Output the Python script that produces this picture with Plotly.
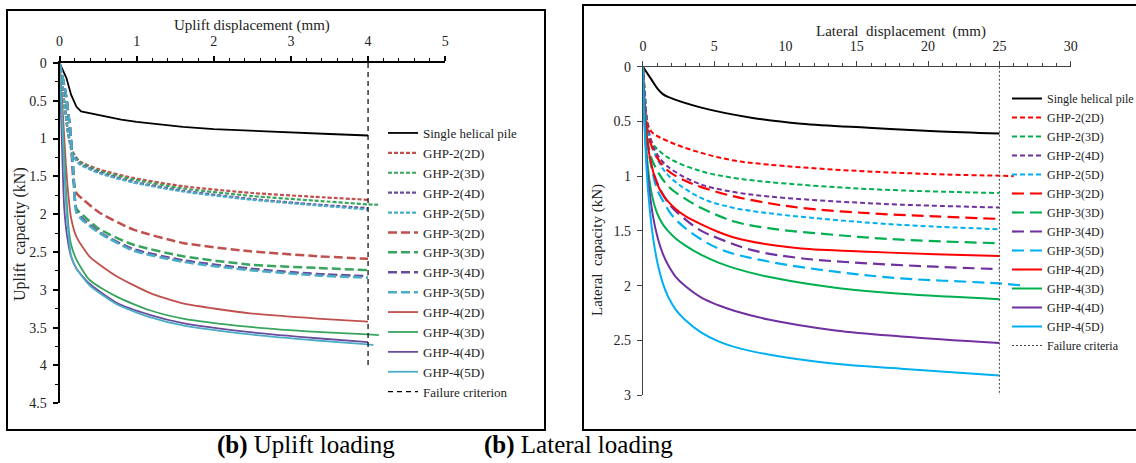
import plotly.graph_objects as go

W, H = 1136, 463

# ---------------- Uplift loading (left) ----------------
up_single_x = [0, 0.05, 0.09, 0.15, 0.22, 0.28, 0.39, 0.6, 0.8, 1.0, 1.2, 1.6, 2.0, 2.5, 3.0, 3.5, 4.0]
up_single_y = [0, 0.1, 0.2, 0.42, 0.58, 0.64, 0.665, 0.71, 0.75, 0.78, 0.80, 0.845, 0.875, 0.9, 0.92, 0.94, 0.96]

up_g2_2d_x = [0, 0.03, 0.065, 0.11, 0.17, 0.26, 0.52, 0.95, 1.6, 2.5, 3.3, 4.0]
up_g2_2d_y = [0, 0.2, 0.55, 0.9, 1.17, 1.3, 1.41, 1.52, 1.63, 1.72, 1.77, 1.81]
up_g2_3d_x = [0, 0.03, 0.065, 0.11, 0.17, 0.26, 0.52, 0.95, 1.6, 2.5, 3.3, 4.0, 4.13]
up_g2_3d_y = [0, 0.2, 0.55, 0.9, 1.18, 1.31, 1.43, 1.54, 1.66, 1.76, 1.82, 1.87, 1.875]
up_g2_4d_x = [0, 0.03, 0.065, 0.11, 0.17, 0.26, 0.52, 0.95, 1.6, 2.5, 3.3, 4.0]
up_g2_4d_y = [0, 0.2, 0.55, 0.92, 1.2, 1.33, 1.45, 1.57, 1.69, 1.8, 1.87, 1.92]
up_g2_5d_x = [0, 0.03, 0.065, 0.11, 0.17, 0.26, 0.52, 0.95, 1.6, 2.5, 3.3, 4.0]
up_g2_5d_y = [0, 0.2, 0.56, 0.93, 1.21, 1.34, 1.46, 1.58, 1.70, 1.81, 1.88, 1.94]

up_g3_2d_x = [0, 0.08, 0.14, 0.18, 0.22, 0.3, 0.52, 0.95, 1.6, 2.47, 3.34, 4.0]
up_g3_2d_y = [0, 0.4, 0.9, 1.55, 1.72, 1.8, 1.98, 2.2, 2.38, 2.49, 2.555, 2.59]
up_g3_3d_x = [0, 0.08, 0.14, 0.18, 0.22, 0.3, 0.52, 0.95, 1.6, 2.47, 3.34, 4.0]
up_g3_3d_y = [0, 0.4, 0.9, 1.45, 1.93, 2.01, 2.2, 2.4, 2.556, 2.667, 2.71, 2.74]
up_g3_4d_x = [0, 0.08, 0.14, 0.18, 0.22, 0.3, 0.52, 0.95, 1.6, 2.47, 3.34, 4.0]
up_g3_4d_y = [0, 0.4, 0.9, 1.45, 1.96, 2.06, 2.24, 2.46, 2.61, 2.72, 2.79, 2.82]
up_g3_5d_x = [0, 0.08, 0.14, 0.18, 0.22, 0.3, 0.52, 0.95, 1.6, 2.47, 3.34, 4.0]
up_g3_5d_y = [0, 0.4, 0.9, 1.45, 1.98, 2.08, 2.25, 2.48, 2.63, 2.74, 2.81, 2.84]

up_g4_2d_x = [0, 0.04, 0.08, 0.12, 0.15, 0.22, 0.39, 0.74, 1.17, 1.6, 2.47, 3.34, 4.0]
up_g4_2d_y = [0, 0.6, 1.3, 1.8, 2.05, 2.3, 2.56, 2.82, 3.04, 3.18, 3.31, 3.38, 3.42]
up_g4_3d_x = [0, 0.04, 0.08, 0.12, 0.15, 0.22, 0.39, 0.74, 1.17, 1.6, 2.47, 3.34, 4.0, 4.14]
up_g4_3d_y = [0, 0.8, 1.6, 2.2, 2.4, 2.6, 2.87, 3.09, 3.27, 3.38, 3.49, 3.556, 3.59, 3.6]
up_g4_4d_x = [0, 0.03, 0.06, 0.1, 0.15, 0.22, 0.39, 0.74, 1.17, 1.6, 2.47, 3.34, 4.0]
up_g4_4d_y = [0, 1.0, 1.9, 2.3, 2.56, 2.72, 2.92, 3.17, 3.33, 3.44, 3.56, 3.64, 3.69]
up_g4_5d_x = [0, 0.04, 0.08, 0.12, 0.15, 0.22, 0.39, 0.74, 1.17, 1.6, 2.47, 3.34, 4.0, 4.07]
up_g4_5d_y = [0, 0.9, 1.8, 2.3, 2.55, 2.72, 2.94, 3.19, 3.36, 3.47, 3.59, 3.67, 3.72, 3.73]

up_fail_x = [4, 4]
up_fail_y = [0, 4]

# ---------------- Lateral loading (right) ----------------
lat_single_x = [0, 0.58, 1.05, 1.4, 1.76, 4.1, 7.6, 11.1, 15.8, 20.5, 25]
lat_single_y = [0, 0.113, 0.205, 0.25, 0.275, 0.373, 0.465, 0.52, 0.557, 0.588, 0.609]

lat_g2_2d_x = [0, 0.12, 0.25, 0.58, 1.76, 4.1, 6.4, 8.8, 13.5, 18.1, 22.8, 25, 26]
lat_g2_2d_y = [0, 0.22, 0.45, 0.59, 0.68, 0.787, 0.857, 0.894, 0.94, 0.97, 0.99, 0.995, 1.0]
lat_g2_3d_x = [0, 0.15, 0.3, 0.58, 1.76, 4.1, 6.4, 8.8, 13.5, 18.1, 25]
lat_g2_3d_y = [0, 0.25, 0.5, 0.68, 0.83, 0.955, 1.016, 1.053, 1.10, 1.13, 1.154]
lat_g2_4d_x = [0, 0.15, 0.35, 0.8, 1.4, 2.2, 4.1, 6.4, 8.8, 13.5, 18.1, 25]
lat_g2_4d_y = [0, 0.28, 0.55, 0.75, 0.87, 0.955, 1.077, 1.145, 1.185, 1.23, 1.26, 1.286]
lat_g2_5d_x = [0, 0.15, 0.35, 0.82, 1.76, 4.1, 6.4, 8.8, 13.5, 18.1, 25]
lat_g2_5d_y = [0, 0.3, 0.6, 0.79, 0.99, 1.2, 1.29, 1.338, 1.4, 1.445, 1.485]

lat_g3_2d_x = [0, 0.2, 0.5, 1.0, 1.76, 2.93, 4.1, 6.4, 8.8, 11.1, 15.8, 20.5, 25]
lat_g3_2d_y = [0, 0.45, 0.68, 0.83, 0.95, 1.04, 1.1, 1.185, 1.246, 1.29, 1.338, 1.368, 1.39]
lat_g3_3d_x = [0, 0.2, 0.58, 1.76, 2.9, 4.1, 6.4, 8.8, 13.5, 18.1, 25]
lat_g3_3d_y = [0, 0.5, 0.83, 1.09, 1.2, 1.29, 1.414, 1.475, 1.537, 1.58, 1.613]
lat_g3_4d_x = [0, 0.2, 0.4, 0.82, 1.76, 2.93, 4.1, 5.27, 7.6, 11.1, 15.8, 20.5, 25]
lat_g3_4d_y = [0, 0.5, 0.76, 1.0, 1.24, 1.39, 1.5, 1.567, 1.674, 1.75, 1.797, 1.827, 1.85]
lat_g3_5d_x = [0, 0.2, 0.5, 1.0, 1.52, 2.0, 2.93, 5.27, 8.8, 13.5, 18.1, 25, 26.7]
lat_g3_5d_y = [0, 0.55, 0.85, 1.12, 1.25, 1.35, 1.47, 1.66, 1.78, 1.873, 1.934, 1.98, 2.0]

lat_g4_2d_x = [0, 0.12, 0.3, 0.6, 1.0, 1.4, 1.76, 2.3, 2.93, 4.1, 5.3, 6.4, 8.8, 11.1, 15.8, 20.5, 25]
lat_g4_2d_y = [0, 0.35, 0.66, 0.9, 1.07, 1.17, 1.23, 1.3, 1.36, 1.44, 1.51, 1.56, 1.625, 1.66, 1.69, 1.714, 1.73]
lat_g4_3d_x = [0, 0.12, 0.3, 0.6, 1.0, 1.4, 1.76, 2.3, 2.93, 4.1, 5.3, 6.4, 8.8, 13.5, 18.1, 25]
lat_g4_3d_y = [0, 0.45, 0.85, 1.15, 1.34, 1.44, 1.5, 1.57, 1.63, 1.72, 1.79, 1.84, 1.92, 2.02, 2.075, 2.124]
lat_g4_4d_x = [0, 0.15, 0.35, 0.7, 1.05, 1.4, 1.76, 2.3, 2.93, 4.1, 5.3, 6.4, 8.8, 13.5, 18.1, 25]
lat_g4_4d_y = [0, 0.6, 1.0, 1.36, 1.57, 1.71, 1.81, 1.92, 2.0, 2.11, 2.18, 2.23, 2.31, 2.41, 2.465, 2.525]
lat_g4_5d_x = [0, 0.12, 0.35, 0.7, 1.05, 1.4, 1.76, 2.3, 2.93, 4.1, 5.3, 6.4, 8.8, 13.5, 18.1, 25]
lat_g4_5d_y = [0, 0.56, 1.11, 1.55, 1.81, 1.98, 2.1, 2.22, 2.31, 2.43, 2.51, 2.56, 2.63, 2.715, 2.76, 2.822]

lat_fail_x = [25, 25]
lat_fail_y = [0, 3]

# ---------------- styles ----------------
FONT = "Liberation Serif"
L_RED, L_GRN, L_PUR, L_CYN = "#C0504D", "#38A55E", "#6A4C9C", "#4BACC6"
R_RED, R_GRN, R_PUR, R_CYN = "#FF0000", "#00B050", "#7030A0", "#00B0F0"

fig = go.Figure()

def add(x, y, name, color, dash, width, xa, ya, legend, shape="spline", smooth=0.6):
    fig.add_trace(go.Scatter(
        x=x, y=y, name=name, mode="lines",
        line=dict(color=color, dash=dash, width=width, shape=shape, smoothing=smooth),
        xaxis=xa, yaxis=ya, legend=legend, hoverinfo="skip"))

# left
LD2, LD3 = "4px,2px", "9px,4px"
add(up_single_x, up_single_y, "Single helical pile", "black", "solid", 1.8, "x", "y", "legend", "linear")
add(up_g2_2d_x, up_g2_2d_y, "GHP-2(2D)", L_RED, LD2, 2.2, "x", "y", "legend")
add(up_g2_3d_x, up_g2_3d_y, "GHP-2(3D)", L_GRN, LD2, 2.2, "x", "y", "legend")
add(up_g2_4d_x, up_g2_4d_y, "GHP-2(4D)", L_PUR, LD2, 2.2, "x", "y", "legend")
add(up_g2_5d_x, up_g2_5d_y, "GHP-2(5D)", L_CYN, LD2, 2.2, "x", "y", "legend")
add(up_g3_2d_x, up_g3_2d_y, "GHP-3(2D)", L_RED, LD3, 2.5, "x", "y", "legend")
add(up_g3_3d_x, up_g3_3d_y, "GHP-3(3D)", L_GRN, LD3, 2.5, "x", "y", "legend")
add(up_g3_4d_x, up_g3_4d_y, "GHP-3(4D)", L_PUR, LD3, 2.5, "x", "y", "legend")
add(up_g3_5d_x, up_g3_5d_y, "GHP-3(5D)", L_CYN, LD3, 2.5, "x", "y", "legend")
add(up_g4_2d_x, up_g4_2d_y, "GHP-4(2D)", L_RED, "solid", 1.8, "x", "y", "legend")
add(up_g4_3d_x, up_g4_3d_y, "GHP-4(3D)", L_GRN, "solid", 1.8, "x", "y", "legend")
add(up_g4_4d_x, up_g4_4d_y, "GHP-4(4D)", L_PUR, "solid", 1.8, "x", "y", "legend")
add(up_g4_5d_x, up_g4_5d_y, "GHP-4(5D)", L_CYN, "solid", 1.8, "x", "y", "legend")
add(up_fail_x, up_fail_y, "Failure criterion", "black", "5px,4px", 1.2, "x", "y", "legend", "linear")

# right
RD2, RD3 = "5px,3px", "12px,6px"
S = 1.0
add(lat_single_x, lat_single_y, "Single helical pile", "black", "solid", 2, "x2", "y2", "legend2", smooth=S)
add(lat_g2_2d_x, lat_g2_2d_y, "GHP-2(2D)", R_RED, RD2, 2, "x2", "y2", "legend2", smooth=S)
add(lat_g2_3d_x, lat_g2_3d_y, "GHP-2(3D)", R_GRN, RD2, 2, "x2", "y2", "legend2", smooth=S)
add(lat_g2_4d_x, lat_g2_4d_y, "GHP-2(4D)", R_PUR, RD2, 2, "x2", "y2", "legend2", smooth=S)
add(lat_g2_5d_x, lat_g2_5d_y, "GHP-2(5D)", R_CYN, RD2, 2, "x2", "y2", "legend2", smooth=S)
add(lat_g3_2d_x, lat_g3_2d_y, "GHP-3(2D)", R_RED, RD3, 2.2, "x2", "y2", "legend2", smooth=S)
add(lat_g3_3d_x, lat_g3_3d_y, "GHP-3(3D)", R_GRN, RD3, 2.2, "x2", "y2", "legend2", smooth=S)
add(lat_g3_4d_x, lat_g3_4d_y, "GHP-3(4D)", R_PUR, RD3, 2.2, "x2", "y2", "legend2", smooth=S)
add(lat_g3_5d_x, lat_g3_5d_y, "GHP-3(5D)", R_CYN, RD3, 2.2, "x2", "y2", "legend2", smooth=S)
add(lat_g4_2d_x, lat_g4_2d_y, "GHP-4(2D)", R_RED, "solid", 2, "x2", "y2", "legend2", smooth=S)
add(lat_g4_3d_x, lat_g4_3d_y, "GHP-4(3D)", R_GRN, "solid", 2, "x2", "y2", "legend2", smooth=S)
add(lat_g4_4d_x, lat_g4_4d_y, "GHP-4(4D)", R_PUR, "solid", 2, "x2", "y2", "legend2", smooth=S)
add(lat_g4_5d_x, lat_g4_5d_y, "GHP-4(5D)", R_CYN, "solid", 2, "x2", "y2", "legend2", smooth=S)
add(lat_fail_x, lat_fail_y, "Failure criteria", "#444444", "2px,2px", 1, "x2", "y2", "legend2", "linear")

def px_x(p):
    return p / W

def px_y(p):
    return 1 - p / H

tickfont = dict(family=FONT, size=14, color="#222")

fig.update_layout(
    width=W, height=H,
    margin=dict(l=0, r=0, t=0, b=0, autoexpand=False),
    paper_bgcolor="white", plot_bgcolor="white",
    showlegend=True,
    font=dict(family=FONT, color="#222"),
    xaxis=dict(domain=[px_x(59.5), px_x(445.2)], range=[0, 5], side="top", anchor="y",
               dtick=1, tick0=0, showline=True, linecolor="black", linewidth=1.8,
               ticks="outside", ticklen=5, tickwidth=1.5, tickcolor="black",
               minor=dict(dtick=0.2, ticks="outside", ticklen=3, tickwidth=1.2, tickcolor="black"),
               showgrid=False, zeroline=False, tickfont=tickfont, ticklabelstandoff=4),
    yaxis=dict(domain=[px_y(403.3), px_y(62.9)], range=[4.5, 0], anchor="x",
               dtick=0.5, tick0=0, showline=True, linecolor="black", linewidth=1.8,
               ticks="outside", ticklen=5, tickwidth=1.5, tickcolor="black",
               minor=dict(dtick=0.25, ticks="outside", ticklen=3, tickwidth=1.2, tickcolor="black"),
               showgrid=False, zeroline=False, tickfont=tickfont, ticklabelstandoff=3),
    xaxis2=dict(domain=[px_x(642.9), px_x(1070.7)], range=[0, 30], side="top", anchor="y2",
                dtick=5, tick0=0, showline=True, linecolor="#404040", linewidth=1.2,
                ticks="outside", ticklen=5, tickwidth=1, tickcolor="#404040",
                minor=dict(dtick=1, ticks="outside", ticklen=3, tickwidth=1, tickcolor="#404040"),
                showgrid=False, zeroline=False, tickfont=tickfont, ticklabelstandoff=4),
    yaxis2=dict(domain=[px_y(395), px_y(66.8)], range=[3, 0], anchor="x2",
                dtick=0.5, tick0=0, showline=True, linecolor="#404040", linewidth=1.2,
                ticks="outside", ticklen=5, tickwidth=1, tickcolor="#404040",
                showgrid=False, zeroline=False, tickfont=tickfont, ticklabelstandoff=3),
    legend=dict(x=px_x(383), y=px_y(118), xanchor="left", yanchor="top",
                bgcolor="rgba(0,0,0,0)", borderwidth=0, tracegroupgap=0,
                font=dict(family=FONT, size=13, color="#222")),
    legend2=dict(x=px_x(1007), y=px_y(84), xanchor="left", yanchor="top",
                 bgcolor="rgba(0,0,0,0)", borderwidth=0, tracegroupgap=0,
                 font=dict(family=FONT, size=12, color="#222")),
    shapes=[
        dict(type="rect", xref="paper", yref="paper",
             x0=px_x(7), x1=px_x(545), y0=px_y(430), y1=px_y(10),
             line=dict(color="black", width=2), fillcolor="rgba(0,0,0,0)", layer="below"),
        dict(type="rect", xref="paper", yref="paper",
             x0=px_x(583), x1=px_x(1145), y0=px_y(430), y1=px_y(5),
             line=dict(color="black", width=2), fillcolor="rgba(0,0,0,0)", layer="below"),
    ],
    annotations=[
        dict(text="Uplift displacement (mm)", xref="paper", yref="paper",
             x=px_x(252), y=px_y(25.5), xanchor="center", yanchor="middle", showarrow=False,
             font=dict(family=FONT, size=15, color="#222")),
        dict(text="Uplift  capacity (kN)", xref="paper", yref="paper", textangle=-90,
             x=px_x(20), y=px_y(234), xanchor="center", yanchor="middle", showarrow=False,
             font=dict(family=FONT, size=16, color="#222")),
        dict(text="Lateral  displacement  (mm)", xref="paper", yref="paper",
             x=px_x(901), y=px_y(31), xanchor="center", yanchor="middle", showarrow=False,
             font=dict(family=FONT, size=15, color="#222")),
        dict(text="Lateral  capacity (kN)", xref="paper", yref="paper", textangle=-90,
             x=px_x(598), y=px_y(250), xanchor="center", yanchor="middle", showarrow=False,
             font=dict(family=FONT, size=15, color="#222")),
        dict(text="<b>(b)</b> Uplift loading", xref="paper", yref="paper",
             x=px_x(215), y=px_y(445), xanchor="left", yanchor="middle", showarrow=False,
             font=dict(family=FONT, size=25, color="black")),
        dict(text="<b>(b)</b> Lateral loading", xref="paper", yref="paper",
             x=px_x(482), y=px_y(445), xanchor="left", yanchor="middle", showarrow=False,
             font=dict(family=FONT, size=25, color="black")),
    ],
)

fig.write_html("out.html")
